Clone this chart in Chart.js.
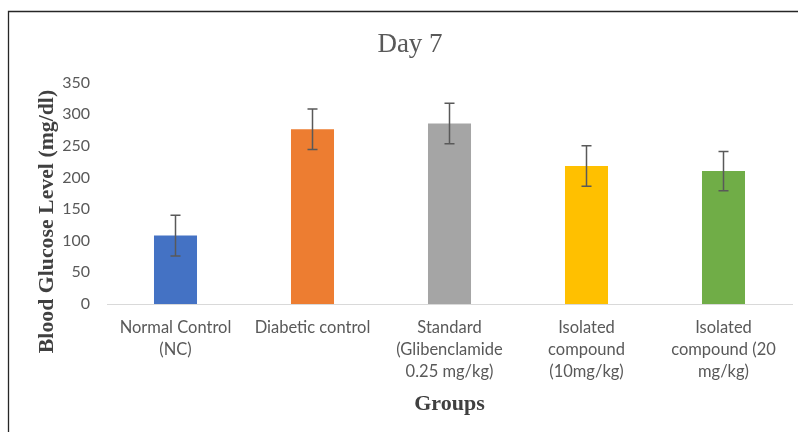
<!DOCTYPE html>
<html>
<head>
<meta charset="utf-8">
<script src="https://cdn.jsdelivr.net/npm/chart.js@4"></script>
<style>
html,body{margin:0;padding:0;background:#fff;}
#wrap{width:798px;height:432px;position:relative;}
</style>
</head>
<body>
<div id="wrap"><canvas id="c"></canvas></div>
<script>
const categories = [
  ["Normal Control", "(NC)"],
  ["Diabetic control"],
  ["Standard", "(Glibenclamide", "0.25 mg/kg)"],
  ["Isolated", "compound", "(10mg/kg)"],
  ["Isolated", "compound (20", "mg/kg)"]
];
const meanValues = [108, 276, 285, 218, 210];
const errorValues = [32, 32, 32, 32, 31];
const barColors = ["#4472C4", "#ED7D31", "#A5A5A5", "#FFC000", "#70AD47"];
const chartTitle = "Day 7";
const yTitle = "Blood Glucose Level (mg/dl)";
const xTitle = "Groups";

const framePlugin = {
  id: 'frame',
  beforeDraw(chart) {
    const ctx = chart.ctx;
    ctx.save();
    ctx.strokeStyle = '#262626';
    ctx.lineWidth = 1.3;
    ctx.beginPath();
    ctx.moveTo(8.5, 432);
    ctx.lineTo(8.5, 11.5);
    ctx.lineTo(798, 11.5);
    ctx.stroke();
    ctx.restore();
  }
};

const errorBarPlugin = {
  id: 'errorBars',
  afterDatasetsDraw(chart) {
    const ctx = chart.ctx;
    const meta = chart.getDatasetMeta(0);
    const y = chart.scales.y;
    ctx.save();
    ctx.strokeStyle = '#595959';
    ctx.lineWidth = 1.5;
    meta.data.forEach((bar, i) => {
      const x = bar.x;
      const top = y.getPixelForValue(meanValues[i] + errorValues[i]);
      const bot = y.getPixelForValue(meanValues[i] - errorValues[i]);
      ctx.beginPath();
      ctx.moveTo(x, top); ctx.lineTo(x, bot);
      ctx.moveTo(x - 5, top); ctx.lineTo(x + 5, top);
      ctx.moveTo(x - 5, bot); ctx.lineTo(x + 5, bot);
      ctx.stroke();
    });
    ctx.restore();
  }
};

const yTitlePlugin = {
  id: 'yTitle',
  afterDraw(chart) {
    const ctx = chart.ctx;
    ctx.save();
    ctx.translate(47, 221.5);
    ctx.rotate(-Math.PI / 2);
    ctx.font = 'bold 21.8px "Liberation Serif", "Times New Roman", serif';
    ctx.fillStyle = '#404040';
    ctx.textAlign = 'center';
    ctx.textBaseline = 'middle';
    ctx.fillText(yTitle, 0, 0);
    ctx.restore();
  }
};

new Chart(document.getElementById('c'), {
  type: 'bar',
  data: {
    labels: categories,
    datasets: [{
      data: meanValues,
      backgroundColor: barColors,
      borderWidth: 0,
      categoryPercentage: 1,
      barPercentage: 0.314
    }]
  },
  options: {
    responsive: true,
    maintainAspectRatio: false,
    devicePixelRatio: 1,
    animation: false,
    layout: { padding: { top: 12, left: 28, right: 6, bottom: 0 } },
    plugins: {
      legend: { display: false },
      tooltip: { enabled: false },
      title: {
        display: true,
        text: chartTitle,
        color: '#595959',
        font: { family: '"Liberation Serif", "Times New Roman", serif', size: 27, weight: 'normal', lineHeight: 1.2 },
        padding: { top: 17, bottom: 21 }
      }
    },
    scales: {
      x: {
        grid: { display: false },
        border: { display: true, color: '#d9d9d9', width: 1 },
        ticks: {
          color: '#595959',
          padding: 5,
          maxRotation: 0,
          autoSkip: false,
          font: { family: 'Lato, "Open Sans", sans-serif', size: 16.5, lineHeight: 22 / 16.5 }
        },
        title: {
          display: true,
          text: xTitle,
          color: '#404040',
          font: { family: '"Liberation Serif", "Times New Roman", serif', size: 22, weight: 'bold', lineHeight: 1.2 },
          padding: { top: 4, bottom: 14 }
        },
        afterFit(scale) { scale.height = 128; }
      },
      y: {
        min: 0,
        max: 350,
        grid: { display: false },
        border: { display: false },
        ticks: {
          stepSize: 50,
          color: '#595959',
          padding: 9,
          font: { family: 'Lato, "Open Sans", sans-serif', size: 16 }
        },
        afterFit(scale) { scale.width = 79; }
      }
    }
  },
  plugins: [framePlugin, errorBarPlugin, yTitlePlugin]
});
</script>
</body>
</html>
